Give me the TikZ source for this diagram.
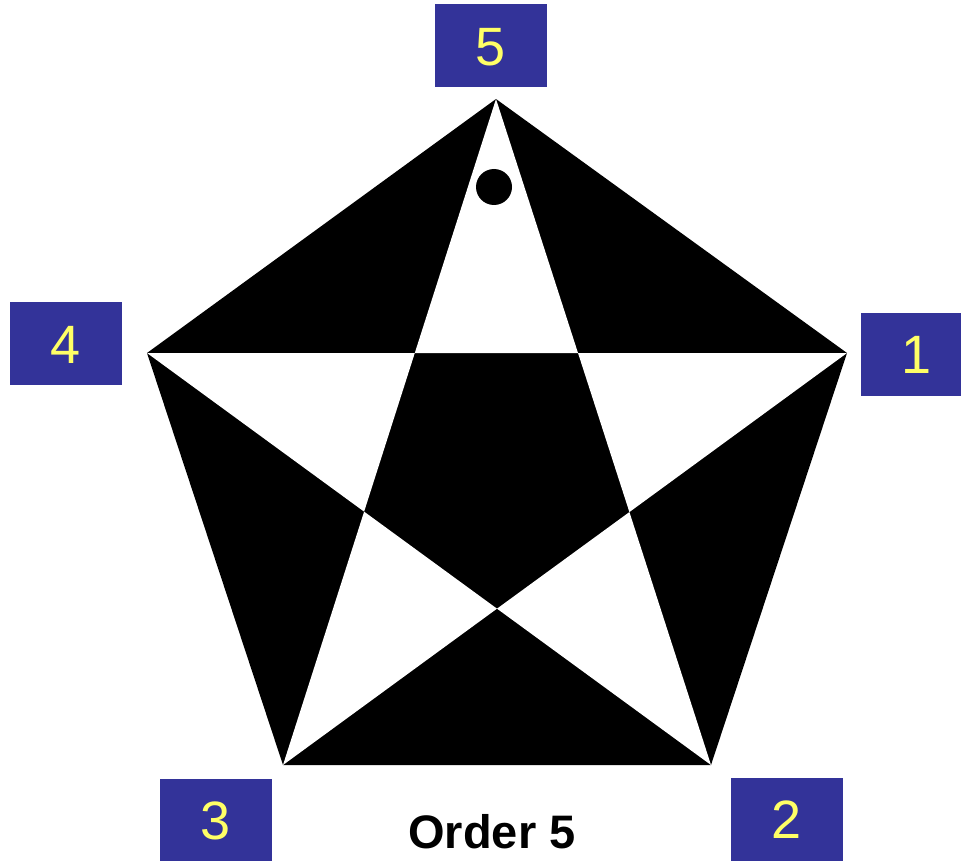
\documentclass[tikz,border=0pt]{standalone}
\usepackage{fontspec}
\setmainfont{Liberation Sans}
\definecolor{boxblue}{RGB}{51,51,153}
\definecolor{numyellow}{RGB}{255,255,102}
\begin{document}
\begin{tikzpicture}[x=1pt,y=-1pt,
  numbox/.style={fill=boxblue,text=numyellow,inner sep=0pt,minimum width=112pt,minimum height=83pt,
    font=\fontsize{54}{60}\selectfont,text height=39pt,text depth=0pt},
  tipfill/.style={fill=white}]
\useasboundingbox (0,0) rectangle (961,861);
\clip (0,0) rectangle (961,861);
% outer vertices
\coordinate (v5) at (496,99);
\coordinate (v1) at (847,353);
\coordinate (v2) at (711,765);
\coordinate (v3) at (283,765);
\coordinate (v4) at (147,353);
% inner vertices (diagonal crossings)
\coordinate (a) at (intersection of v5--v3 and v4--v1);
\coordinate (b) at (intersection of v5--v2 and v4--v1);
\coordinate (c) at (intersection of v5--v2 and v1--v3);
\coordinate (d) at (intersection of v1--v3 and v4--v2);
\coordinate (e) at (intersection of v4--v2 and v5--v3);
% black pentagon
\fill[black] (v5) -- (v1) -- (v2) -- (v3) -- (v4) -- cycle;
% white star tips
\fill[tipfill] (v5) -- (a) -- (b) -- cycle;
\fill[tipfill] (v1) -- (b) -- (c) -- cycle;
\fill[tipfill] (v2) -- (c) -- (d) -- cycle;
\fill[tipfill] (v3) -- (d) -- (e) -- cycle;
\fill[tipfill] (v4) -- (e) -- (a) -- cycle;
% dot
\fill[black] (494,187) circle (18pt);
% number boxes
\node[numbox] (n5) at (491,46) {5};
\node[numbox] (n4) at (66,343.5) {4};
\node[numbox] (n1) at (917,354) {1};
\node[numbox] (n3) at (216,820) {3};
\node[numbox] (n2) at (787,819) {2};
% caption
\node[anchor=base,inner sep=0pt,font=\fontsize{47}{52}\selectfont\bfseries] (cap) at (492,848) {Order 5};
\end{tikzpicture}
\end{document}
